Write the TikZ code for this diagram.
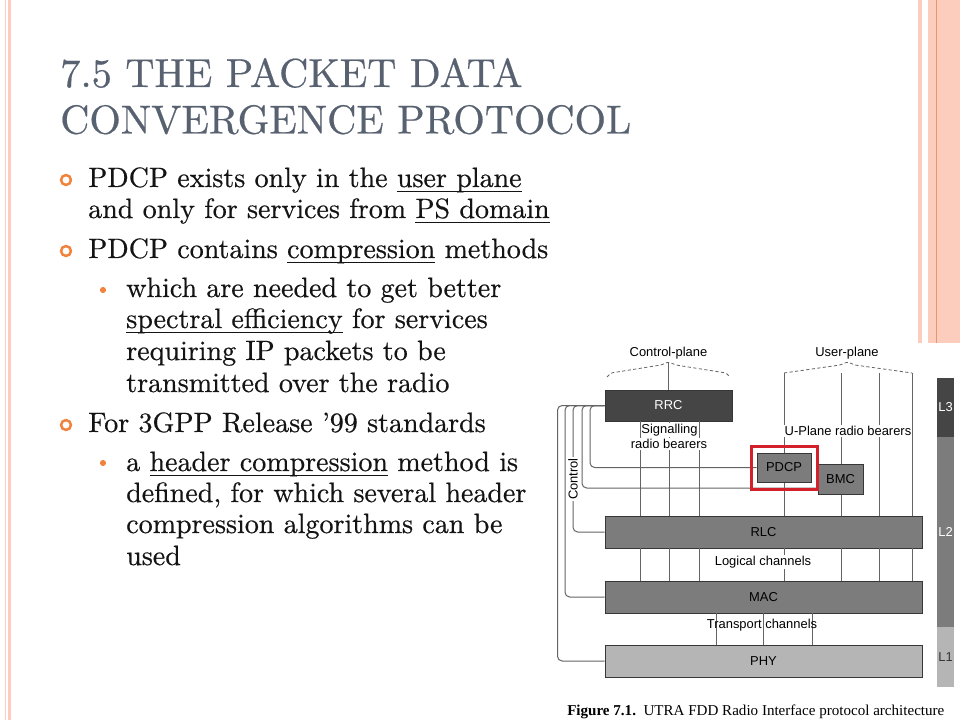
\documentclass[tikz,border=0pt]{standalone}
\usepackage{fontspec}
\usepackage{tikz}
\usetikzlibrary{calc}

\newfontfamily\diagfont{Liberation Sans}
\newfontfamily\capfont{Liberation Serif}
\newfontfamily\slidefont[FakeBold=0.5]{lmroman10-regular.otf}

\newsavebox\underbox
\newcommand{\uword}[1]{\sbox\underbox{#1}\rlap{\rule[-3.6pt]{\wd\underbox}{0.75pt}}\usebox\underbox}

\definecolor{titlegray}{RGB}{88,97,112}
\definecolor{bodyblack}{RGB}{20,20,20}
\definecolor{bulletorange}{RGB}{240,132,62}
\definecolor{pinkbar}{RGB}{252,204,188}
\definecolor{pinkline}{RGB}{232,150,110}
\definecolor{rrcgray}{RGB}{69,69,69}
\definecolor{layergray}{RGB}{124,124,124}
\definecolor{phygray}{RGB}{181,181,181}
\definecolor{boxedge}{RGB}{55,55,55}
\definecolor{wiregray}{RGB}{100,100,100}
\definecolor{pdcpred}{RGB}{212,32,42}

\tikzset{
  slidetitle/.style={anchor=base west, inner sep=0, text=titlegray, font=\fontsize{30.3}{34}\slidefont},
  bodytext/.style={anchor=base west, inner sep=0, text=bodyblack, font=\fontsize{21}{25}\slidefont},
  ringbullet/.style={circle, draw=bulletorange, line width=1.9pt, inner sep=0, minimum size=7.4pt},
  dotbullet/.style={circle, fill=bulletorange, inner sep=0, minimum size=4.6pt},
  layerbox/.style={draw=boxedge, line width=0.6pt, fill=layergray, inner sep=0, font=\fontsize{9.7}{11}\diagfont},
  wire/.style={draw=wiregray, line width=0.75pt},
  ctrlwire/.style={wire, rounded corners=3.5pt},
  planebrace/.style={draw=wiregray, dash pattern=on 2.4pt off 1.8pt, line width=0.6pt, rounded corners=1pt},
  difflabel/.style={font=\fontsize{9.7}{11}\diagfont, inner sep=0.6pt, fill=white},
  layerbar/.style={inner sep=0, minimum width=12.75pt, text=white, font=\fontsize{9.7}{11}\diagfont},
}

\begin{document}
\begin{tikzpicture}[x=0.75pt, y=-0.75pt]
\useasboundingbox (0,0) rectangle (960,720);

%the slide border
\fill[pinkbar] (4.5,0) rectangle (6,720);
\fill[pinkbar] (7.5,0) rectangle (11,720);
\fill[pinkbar] (918,0) rectangle (922,720);
\fill[pinkbar] (928,0) rectangle (960,720);
\draw[pinkline, line width=0.75pt] (936.5,0) -- (936.5,720);

%the title
\node[slidetitle] (title1) at (60,87) {7.5 THE PACKET DATA};
\node[slidetitle] (title2) at (60,133.5) {CONVERGENCE PROTOCOL};

%the bullets
\node[ringbullet] (b1) at (66,180) {};
\node[bodytext] (t1) at (88,187) {PDCP exists only in the \uword{user plane}};
\node[bodytext] (t1b) at (88,218) {and only for services from \uword{PS domain}};
\node[ringbullet] (b2) at (66,251) {};
\node[bodytext] (t2) at (88,258) {PDCP contains \uword{compression} methods};
\node[dotbullet] (d1) at (103,290) {};
\node[bodytext] (t3) at (126,297) {which are needed to get better};
\node[bodytext] (t3b) at (126,328) {\uword{spectral efficiency} for services};
\node[bodytext] (t3c) at (126,360) {requiring IP packets to be};
\node[bodytext] (t3d) at (126,392) {transmitted over the radio};
\node[ringbullet] (b3) at (66,425) {};
\node[bodytext] (t4) at (88,432) {For 3GPP Release ’99 standards};
\node[dotbullet] (d2) at (103,463) {};
\node[bodytext] (t5) at (126,471) {a \uword{header compression} method is};
\node[bodytext] (t5b) at (126,502) {defined, for which several header};
\node[bodytext] (t5c) at (126,533) {compression algorithms can be};
\node[bodytext] (t5d) at (126,565) {used};

%the figure
\fill[white] (555,343) rectangle (960,720);

\coordinate (s1) at (640,0);
\coordinate (s2) at (669,0);
\coordinate (s3) at (699.5,0);
\coordinate (u1) at (784,0);
\coordinate (u2) at (841,0);
\coordinate (u3) at (879,0);
\coordinate (u4) at (912,0);
\coordinate (tr1) at (716,0);
\coordinate (tr2) at (763,0);
\coordinate (tr3) at (812,0);
\coordinate (c1) at (557.5,0);
\coordinate (c2) at (565,0);
\coordinate (c3) at (573,0);
\coordinate (c4) at (582,0);
\coordinate (c5) at (590,0);
\coordinate (utop) at (0,373);
\coordinate (cpeak) at (668.5,362);
\coordinate (upeak) at (847.5,362);

%the planes
\draw[planebrace] (607,377) -- (611,373) -- (661,365) -- (cpeak) -- (676,365) -- (726,373) -- (730,377);
\draw[planebrace] (u1 |- utop) -- (840,365) -- (upeak) -- (855,365) -- (u4 |- utop);

%the boxes
\node[layerbox, fill=rrcgray, text=white, minimum width=95.25pt, minimum height=23.25pt] (rrc) at (668.5,405.5) {RRC};
\node[layerbox, minimum width=237.75pt, minimum height=24pt] (rlc) at (763.5,532) {RLC};
\node[layerbox, minimum width=237.75pt, minimum height=24pt] (mac) at (763.5,597) {MAC};
\node[layerbox, fill=phygray, minimum width=237.75pt, minimum height=24pt] (phy) at (763.5,661) {PHY};
\coordinate (bmcin) at (818,488);

%the bearers
\draw[wire] (cpeak) -- (rrc.north);
\foreach \s in {s1,s2,s3} {
  \draw[wire] (\s |- rrc.south) -- (\s |- rlc.north);
}
\foreach \u in {u1,u2,u3,u4} {
  \draw[wire] (\u |- utop) -- (\u |- rlc.north);
}
\foreach \l in {s1,s2,s3,u1,u2,u3,u4} {
  \draw[wire] (\l |- rlc.south) -- (\l |- mac.north);
}
\foreach \t in {tr1,tr2,tr3} {
  \draw[wire] (\t |- mac.south) -- (\t |- phy.north);
}

\node[layerbox, minimum width=40.5pt, minimum height=21.75pt] (pdcp) at (784,467.5) {PDCP};
\node[layerbox, minimum width=33.75pt, minimum height=22.5pt] (bmc) at (840.5,479) {BMC};

%the control
\draw[ctrlwire] (rrc.west) -- (c5 |- rrc.west) -- (c5 |- pdcp.west) -- (pdcp.west);
\draw[ctrlwire] (rrc.west) -- (c4 |- rrc.west) -- (c4 |- bmcin) -- (bmcin);
\draw[ctrlwire] (rrc.west) -- (c3 |- rrc.west) -- (c3 |- rlc.west) -- (rlc.west);
\draw[ctrlwire] (rrc.west) -- (c2 |- rrc.west) -- (c2 |- mac.west) -- (mac.west);
\draw[ctrlwire] (rrc.west) -- (c1 |- rrc.west) -- (c1 |- phy.west) -- (phy.west);

\draw[pdcpred, line width=2.2pt] ($(pdcp.north west)+(-5,-6)$) rectangle ($(pdcp.south east)+(6,7)$);

%the labels
\node[difflabel] (cplabel) at (668.5,353) {Control-plane};
\node[difflabel] (uplabel) at (847,353) {User-plane};
\node[difflabel] (sig1) at (669.5,430) {Signalling};
\node[difflabel] (sig2) at (669,444) {radio bearers};
\node[difflabel] (uprb) at (848,431) {U-Plane radio bearers};
\node[difflabel] (logch) at (763,562) {Logical channels};
\node[difflabel, fill=none] (trch) at (762,625) {Transport channels};
\node[difflabel, rotate=90] (ctrl) at (573,479) {Control};

%the layers
\node[layerbar, fill=rrcgray, minimum height=44.25pt] (l3) at (945.5,407.5) {L3};
\node[layerbar, fill=layergray, minimum height=142.5pt] (l2) at (945.5,532) {L2};
\node[layerbar, fill=phygray, text=boxedge, minimum height=45pt] (l1) at (945.5,657) {L1};

%the caption
\node[anchor=base west, inner sep=0, font=\fontsize{11.3}{13}\capfont] (caption) at (567,715) {\textbf{Figure 7.1.}\enspace UTRA FDD Radio Interface protocol architecture};
\end{tikzpicture}
\end{document}
